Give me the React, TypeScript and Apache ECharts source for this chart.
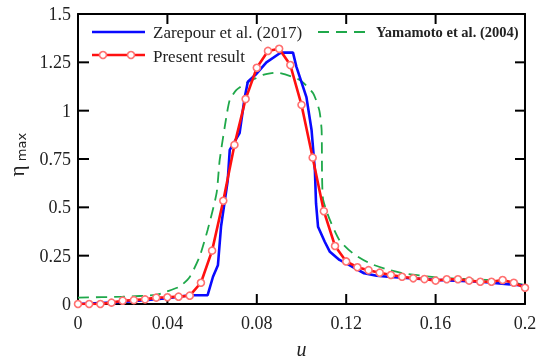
import React, { useEffect, useRef } from "react";
import * as echarts from "echarts";

const xTickValues = [0, 0.04, 0.08, 0.12, 0.16, 0.2];
const yTickValues = [0, 0.25, 0.5, 0.75, 1, 1.25, 1.5];

const presentU = [0, 0.005, 0.01, 0.015, 0.02, 0.025, 0.03, 0.035, 0.04, 0.045, 0.05, 0.055, 0.06, 0.065, 0.07, 0.075, 0.08, 0.085, 0.09, 0.095, 0.1, 0.105, 0.11, 0.115, 0.12, 0.125, 0.13, 0.135, 0.14, 0.145, 0.15, 0.155, 0.16, 0.165, 0.17, 0.175, 0.18, 0.185, 0.19, 0.195, 0.2];
const presentEta = [0, 0, 0, 0.007, 0.017, 0.02, 0.024, 0.033, 0.035, 0.038, 0.043, 0.11, 0.276, 0.534, 0.823, 1.06, 1.222, 1.309, 1.32, 1.236, 1.03, 0.757, 0.48, 0.3, 0.22, 0.19, 0.175, 0.162, 0.15, 0.141, 0.133, 0.129, 0.121, 0.128, 0.128, 0.121, 0.115, 0.115, 0.124, 0.11, 0.084];

const zarepourU = [0, 0.02, 0.03, 0.04, 0.05, 0.058, 0.0604, 0.0626, 0.064, 0.067, 0.0679, 0.0723, 0.0746, 0.076, 0.0798, 0.0843, 0.0903, 0.091, 0.0962, 0.0977, 0.1022, 0.1045, 0.106, 0.1065, 0.1074, 0.1104, 0.1127, 0.117, 0.12, 0.128, 0.1336, 0.14, 0.16, 0.18, 0.2];
const zarepourEta = [0, 0.01, 0.02, 0.03, 0.045, 0.046, 0.141, 0.2, 0.4, 0.64, 0.797, 0.884, 1.07, 1.15, 1.19, 1.25, 1.297, 1.3, 1.3, 1.228, 1.07, 0.9, 0.69, 0.52, 0.4, 0.322, 0.27, 0.228, 0.21, 0.159, 0.146, 0.14, 0.125, 0.115, 0.095];

const yamamotoU = [0, 0.02, 0.035, 0.0395, 0.0455, 0.05, 0.0544, 0.058, 0.062, 0.0634, 0.0664, 0.0679, 0.0709, 0.0753, 0.0828, 0.0888, 0.0992, 0.1052, 0.108, 0.109, 0.1092, 0.1097, 0.1127, 0.117, 0.123, 0.1306, 0.138, 0.1455, 0.16, 0.1754, 0.19, 0.2];
const yamamotoEta = [0.033, 0.038, 0.047, 0.064, 0.09, 0.14, 0.245, 0.383, 0.573, 0.745, 0.969, 1.055, 1.107, 1.142, 1.185, 1.197, 1.159, 1.09, 1.0, 0.9, 0.66, 0.538, 0.435, 0.33, 0.262, 0.21, 0.18, 0.159, 0.138, 0.128, 0.121, 0.098];

const legendNames = ["Zarepour et al. (2017)", "Present result", "Yamamoto et al. (2004)"];

const zip = (xs: number[], ys: number[]) => xs.map((x, i) => [x, ys[i]]);

const SERIF = "Liberation Serif";
const BLUE = "#0a0aff";
const RED = "#ff1010";
const REDM = "#ff7070";
const GREEN = "#1fa84a";
const INK = "#222";

export default function App() {
  const ref = useRef<HTMLDivElement>(null);
  useEffect(() => {
    if (!ref.current) return;
    const chart = echarts.init(ref.current, null, { renderer: "svg" });
    const axisLine = () => ({ show: true, onZero: false, lineStyle: { color: "#000", width: 2 } });
    chart.setOption({
      animation: false,
      grid: { left: 78, right: 12, top: 14, bottom: 59, outerBoundsMode: "none" },
      xAxis: [
        {
          type: "value", min: 0, max: 0.2, interval: 0.04, position: "bottom",
          axisLine: axisLine(), axisTick: { show: false }, splitLine: { show: false },
          axisLabel: { show: true, fontFamily: SERIF, fontSize: 18, color: INK, margin: 10 },
        },
        {
          type: "value", min: 0, max: 0.2, interval: 0.04, position: "top",
          axisLine: axisLine(), axisTick: { show: false }, splitLine: { show: false },
          axisLabel: { show: false },
        },
      ],
      yAxis: [
        {
          type: "value", min: 0, max: 1.5, interval: 0.25, position: "left",
          axisLine: axisLine(), axisTick: { show: false }, splitLine: { show: false },
          axisLabel: { show: true, fontFamily: SERIF, fontSize: 18, color: INK, margin: 7 },
        },
        {
          type: "value", min: 0, max: 1.5, interval: 0.25, position: "right",
          axisLine: axisLine(), axisTick: { show: false }, splitLine: { show: false },
          axisLabel: { show: false },
        },
      ],
      series: [
        {
          name: legendNames[2], type: "line", data: zip(yamamotoU, yamamotoEta),
          showSymbol: false, smooth: 0.2,
          lineStyle: { color: GREEN, width: 1.8, type: [11, 7] },
          z: 2,
        },
        {
          name: legendNames[0], type: "line", data: zip(zarepourU, zarepourEta),
          showSymbol: false,
          lineStyle: { color: BLUE, width: 2.6 },
          z: 3,
        },
        {
          name: legendNames[1], type: "line", data: zip(presentU, presentEta),
          symbol: "circle", symbolSize: 7, showSymbol: true,
          lineStyle: { color: RED, width: 2.6 },
          itemStyle: { color: "#fff", borderColor: REDM, borderWidth: 1.6 },
          z: 4,
        },
      ],
    });

    try {
      const px = (v: number) => chart.convertToPixel({ xAxisIndex: 0 }, v) as number;
      const py = (v: number) => chart.convertToPixel({ yAxisIndex: 0 }, v) as number;
      const xL = px(xTickValues[0]);
      const xR = px(xTickValues[xTickValues.length - 1]);
      const yB = py(yTickValues[0]);
      const yT = py(yTickValues[yTickValues.length - 1]);
      const tickLen = 10;
      const tick = (x1: number, y1: number, x2: number, y2: number) => ({
        type: "line",
        shape: { x1, y1, x2, y2 },
        style: { stroke: "#000", lineWidth: 2 },
      });
      const els: any[] = [];
      xTickValues.slice(1, -1).forEach((v) => {
        const x = px(v);
        els.push(tick(x, yB, x, yB - tickLen));
        els.push(tick(x, yT, x, yT + tickLen));
      });
      yTickValues.slice(1, -1).forEach((v) => {
        const y = py(v);
        els.push(tick(xL, y, xL + tickLen + 1, y));
        els.push(tick(xR, y, xR - tickLen, y));
      });
      const yMid = (yT + yB) / 2;
      els.push(
        { type: "text", x: (xL + xR) / 2, y: yB + 45, style: { text: "u", font: `italic 20px ${SERIF}`, fill: INK, align: "center", verticalAlign: "middle" } },
        { type: "text", x: 17, y: yMid + 12, rotation: Math.PI / 2, style: { text: "η", font: `21px ${SERIF}`, fill: INK, align: "center", verticalAlign: "middle" } },
        { type: "text", x: 21, y: yMid - 12, rotation: Math.PI / 2, style: { text: "max", font: `13px DejaVu Sans`, fill: INK, align: "center", verticalAlign: "middle" } },
        { type: "line", shape: { x1: 92, y1: 32, x2: 145, y2: 32 }, style: { stroke: BLUE, lineWidth: 2.6 } },
        { type: "text", x: 153, y: 32, style: { text: legendNames[0], font: `17px ${SERIF}`, fill: INK, verticalAlign: "middle" } },
        { type: "line", shape: { x1: 92, y1: 55, x2: 145, y2: 55 }, style: { stroke: RED, lineWidth: 2.6 } },
        { type: "circle", shape: { cx: 103, cy: 55, r: 3.5 }, style: { fill: "#fff", stroke: REDM, lineWidth: 1.6 } },
        { type: "circle", shape: { cx: 131, cy: 55, r: 3.5 }, style: { fill: "#fff", stroke: REDM, lineWidth: 1.6 } },
        { type: "text", x: 153, y: 56, style: { text: legendNames[1], font: `17px ${SERIF}`, fill: INK, verticalAlign: "middle" } },
        { type: "line", shape: { x1: 318, y1: 32, x2: 366, y2: 32 }, style: { stroke: GREEN, lineWidth: 1.8, lineDash: [11, 7] } },
        { type: "text", x: 376, y: 32, style: { text: legendNames[2], font: `bold 14.5px ${SERIF}`, fill: INK, verticalAlign: "middle" } }
      );
      chart.setOption({ graphic: els });
    } catch (e) {
      // keep the base chart if decoration fails
    }
    return () => chart.dispose();
  }, []);
  return <div ref={ref} style={{ position: "fixed", left: 0, top: 0, width: 537, height: 363 }} />;
}
